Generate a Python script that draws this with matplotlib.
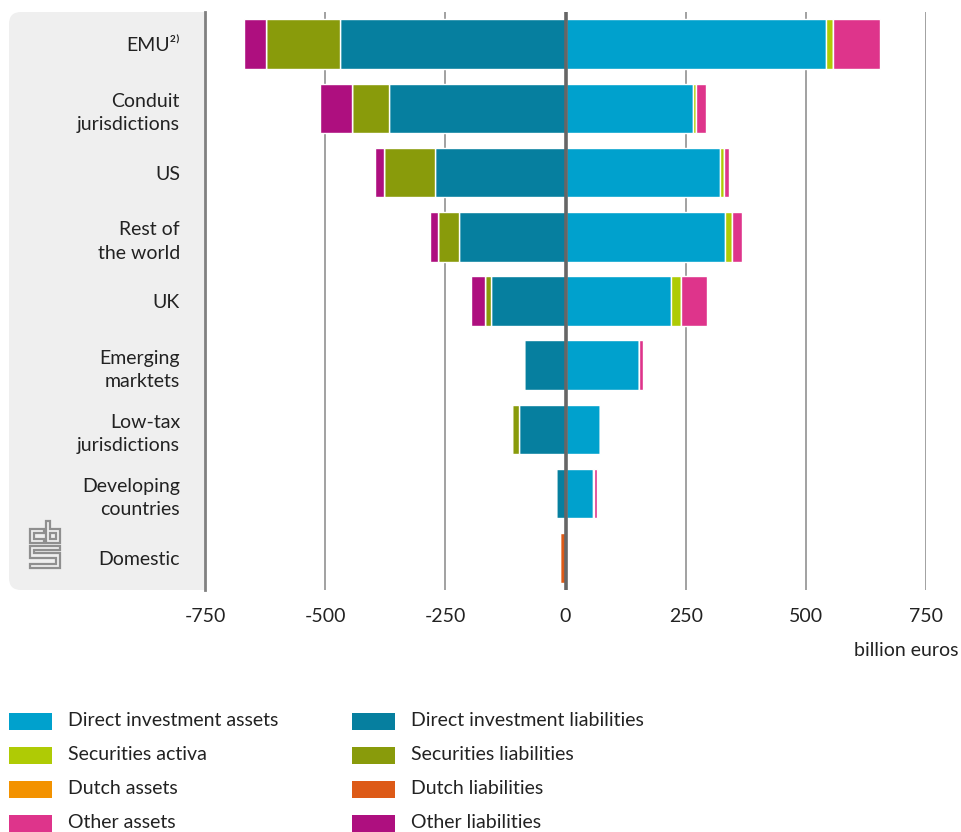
import matplotlib
matplotlib.use("Agg")
import matplotlib.pyplot as plt
import numpy as np
from matplotlib.patches import FancyBboxPatch, Rectangle, Polygon
from matplotlib.transforms import IdentityTransform

plt.rcParams['font.family'] = ['Lato', 'DejaVu Sans']

# ---- data (billion euros) ----
categories = ["EMU²⁾", "Conduit\njurisdictions", "US", "Rest of\nthe world", "UK",
              "Emerging\nmarktets", "Low-tax\njurisdictions", "Developing\ncountries", "Domestic"]

di_assets    = [541, 266, 322, 332, 220, 153, 71, 57, 0]
sec_assets   = [15, 5, 7, 15, 20, 0, 0, 3, 0]
dutch_assets = [0, 0, 0, 0, 0, 0, 0, 0, 0]
other_assets = [98, 22, 11, 21, 54, 9, 0, 6, 0]

di_liab    = [469, 368, 271, 222, 155, 86, 97, 20, 0]
sec_liab   = [155, 77, 106, 43, 13, 0, 15, 0, 0]
dutch_liab = [0, 0, 0, 0, 0, 0, 0, 0, 12]
other_liab = [45, 66, 20, 16, 28, 0, 0, 0, 0]

asset_series = [("Direct investment assets", di_assets, "#00a1cd"),
                ("Securities activa", sec_assets, "#afcb05"),
                ("Dutch assets", dutch_assets, "#f39200"),
                ("Other assets", other_assets, "#de348b")]
liab_series = [("Direct investment liabilities", di_liab, "#067f9f"),
               ("Securities liabilities", sec_liab, "#899b0b"),
               ("Dutch liabilities", dutch_liab, "#dd5a17"),
               ("Other liabilities", other_liab, "#ae0f7f")]

xticks = [-750, -500, -250, 0, 250, 500, 750]

W, H = 961, 832
FS = 14
TXT = "#222222"
fig = plt.figure(figsize=(W / 100, H / 100), dpi=100)

def fx(px):
    return px / W

def fy(py):
    return 1 - py / H

ax_left, ax_right, ax_top, ax_bottom = 205, 926, 12, 590
ax = fig.add_axes([fx(ax_left), fy(ax_bottom), fx(ax_right - ax_left), (ax_bottom - ax_top) / H])

y = np.arange(len(categories))
bar_h = 0.77

cum = np.zeros(len(categories))
for name, vals, col in asset_series:
    v = np.array(vals, dtype=float)
    ax.barh(y, v, left=cum, height=bar_h, color=col, edgecolor="white", linewidth=1, zorder=2)
    cum += v

cum = np.zeros(len(categories))
for name, vals, col in liab_series:
    v = np.array(vals, dtype=float)
    ax.barh(y, -v, left=-cum, height=bar_h, color=col, edgecolor="white", linewidth=1, zorder=2)
    cum += v

ax.set_xlim(-750, 750)
ax.set_ylim(len(categories) - 0.5, -0.5)
ax.set_xticks(xticks)
ax.set_xticklabels([str(t) for t in xticks])
ax.set_yticks(y)
ax.set_yticklabels(categories, linespacing=1.45)
ax.tick_params(axis="x", length=0, pad=13, labelsize=FS, labelcolor=TXT)
ax.tick_params(axis="y", length=0, pad=18, labelsize=FS, labelcolor=TXT)

for t in xticks[1:]:
    if t == 0:
        continue
    ax.axvline(t, color="#9a9a9a", lw=1.3, zorder=1)
ax.axvline(0, color="#666666", lw=2.6, zorder=4)

for s in ["top", "right", "bottom"]:
    ax.spines[s].set_visible(False)
ax.spines["left"].set_color("#808080")
ax.spines["left"].set_linewidth(2)
ax.spines["left"].set_zorder(5)

# grey label panel behind category names
panel = FancyBboxPatch((9, H - ax_bottom), 215 - 9, ax_bottom - ax_top,
                       boxstyle="round,pad=0,rounding_size=12",
                       transform=IdentityTransform(), facecolor="#efefef",
                       edgecolor="none", zorder=-1)
fig.add_artist(panel)

# cbs logo
def logo_pt(zx, zy):
    return (15 + zx / 3, H - (510 + zy / 3))

logo_shapes = [
    [(88, 56), (44, 56), (44, 99), (88, 99), (88, 87), (57, 87), (57, 68), (88, 68)],
    [(92, 33), (104, 33), (104, 56), (135, 56), (135, 99), (92, 99)],
    [(106, 68), (122, 68), (122, 87), (106, 87)],
    [(44, 107), (135, 107), (135, 120), (57, 120), (57, 130), (135, 130), (135, 175),
     (44, 175), (44, 162), (122, 162), (122, 143), (44, 143)],
]
for shape in logo_shapes:
    fig.add_artist(Polygon([logo_pt(a, b) for a, b in shape], closed=True, fill=False,
                           edgecolor="#8f8f8f", linewidth=1.6,
                           transform=IdentityTransform(), zorder=2))

fig.text(fx(958), fy(650), "billion euros", ha="right", va="center",
         fontsize=FS, color=TXT)

# legend
rows = [721, 755, 789, 823]
for col_x, series in ((9, asset_series), (352, liab_series)):
    for ry, (name, vals, color) in zip(rows, series):
        fig.add_artist(Rectangle((col_x, H - ry - 8.5), 43, 17, transform=IdentityTransform(),
                                 facecolor=color, edgecolor="none"))
        fig.text(fx(col_x + 59), fy(ry), name, ha="left", va="center",
                 fontsize=FS, color=TXT)

fig.savefig("out.png", dpi=100)
